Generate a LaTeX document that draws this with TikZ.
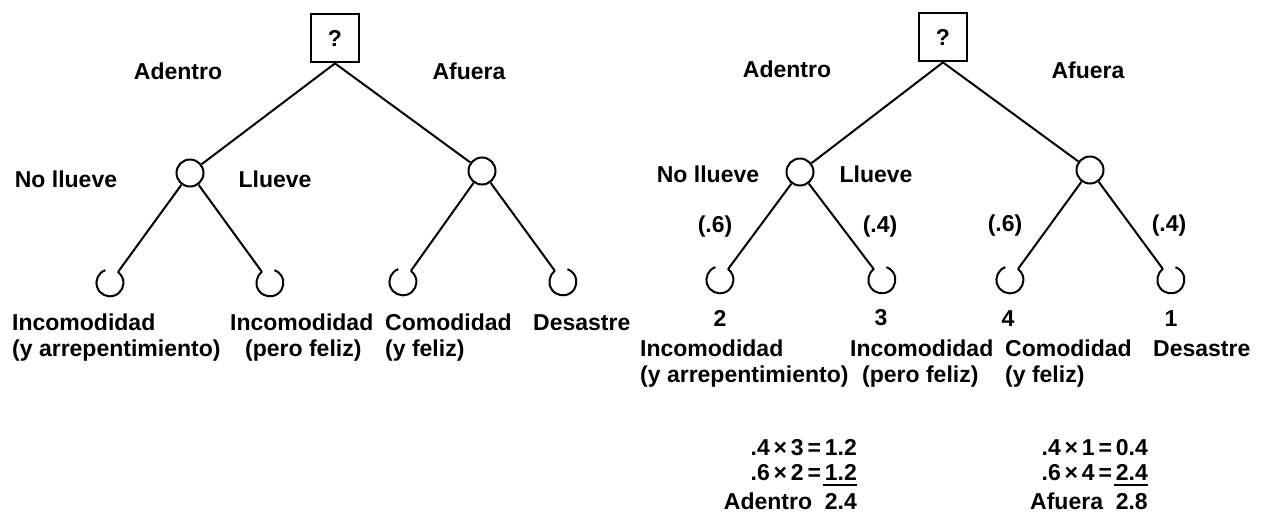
\documentclass[tikz,border=0pt]{standalone}
\usepackage{fontspec}
\setmainfont{Liberation Sans}
\begin{document}
\begin{tikzpicture}[x=1pt,y=1pt,
  txt/.style={font=\fontsize{23}{26}\selectfont\bfseries, inner sep=0pt},
  dec/.style={draw, line width=2.8pt, minimum width=48pt, minimum height=48pt, inner sep=0pt, font=\fontsize{23}{26}\selectfont\bfseries},
  chance/.style={draw, circle, line width=2pt, minimum size=27pt, inner sep=0pt},
  leaf/.style={circle, minimum size=27pt, inner sep=0pt},
  leafline/.style={line width=2pt},
  edge/.style={line width=2pt}]
\useasboundingbox (0,-517) rectangle (1274,0);
\fill[white] (0,-517) rectangle (1274,0);
% ---------------- left tree
\node[dec] (sqA) at (335,-38) {?};
\node[chance] (cA1) at (190,-173) {};
\node[chance] (cA2) at (482,-171) {};
\node[leaf] (lA1) at (110,-283) {};
\node[leaf] (lA2) at (270,-283) {};
\node[leaf] (lA3) at (403,-282) {};
\node[leaf] (lA4) at (563,-282) {};
\draw[edge] (sqA.south) -- (cA1);
\draw[edge] (sqA.south) -- (cA2);
\draw[edge] (cA1) -- (lA1);
\draw[edge] (cA1) -- (lA2);
\draw[edge] (cA2) -- (lA3);
\draw[edge] (cA2) -- (lA4);
\draw[leafline] (lA1.110) arc[start angle=110, end angle=414, radius=13.5pt];
\draw[leafline] (lA2.126) arc[start angle=126, end angle=430, radius=13.5pt];
\draw[leafline] (lA3.110) arc[start angle=110, end angle=414, radius=13.5pt];
\draw[leafline] (lA4.126) arc[start angle=126, end angle=430, radius=13.5pt];
\node[txt] (adA) at (178,-71) {Adentro};
\node[txt] (afA) at (469,-71) {Afuera};
\node[txt] (nlA) at (66,-179) {No llueve};
\node[txt] (llA) at (275,-179) {Llueve};
\node[txt,anchor=base west] (tA1) at (12,-330) {Incomodidad};
\node[txt,anchor=base west] (tA1b) at (12,-356) {(y arrepentimiento)};
\node[txt,anchor=base west] (tA2) at (230,-330) {Incomodidad};
\node[txt,anchor=base west] (tA2b) at (245,-356) {(pero feliz)};
\node[txt,anchor=base west] (tA3) at (385,-330) {Comodidad};
\node[txt,anchor=base west] (tA3b) at (385,-356) {(y feliz)};
\node[txt,anchor=base west] (tA4) at (533,-330) {Desastre};
% ---------------- right tree
\node[dec] (sqB) at (943,-37) {?};
\node[chance] (cB1) at (800,-172) {};
\node[chance] (cB2) at (1090,-170) {};
\node[leaf] (lB1) at (720,-280) {};
\node[leaf] (lB2) at (882,-280) {};
\node[leaf] (lB3) at (1010,-280) {};
\node[leaf] (lB4) at (1171,-280) {};
\draw[edge] (sqB.south) -- (cB1);
\draw[edge] (sqB.south) -- (cB2);
\draw[edge] (cB1) -- (lB1);
\draw[edge] (cB1) -- (lB2);
\draw[edge] (cB2) -- (lB3);
\draw[edge] (cB2) -- (lB4);
\draw[leafline] (lB1.110) arc[start angle=110, end angle=414, radius=13.5pt];
\draw[leafline] (lB2.126) arc[start angle=126, end angle=430, radius=13.5pt];
\draw[leafline] (lB3.110) arc[start angle=110, end angle=414, radius=13.5pt];
\draw[leafline] (lB4.126) arc[start angle=126, end angle=430, radius=13.5pt];
\node[txt] (adB) at (787,-69) {Adentro};
\node[txt] (afB) at (1088,-70) {Afuera};
\node[txt] (nlB) at (708,-174) {No llueve};
\node[txt] (llB) at (876,-174) {Llueve};
\node[txt] (pB1) at (715,-227) {(.6)};
\node[txt] (pB2) at (880,-227) {(.4)};
\node[txt] (pB3) at (1005,-226) {(.6)};
\node[txt] (pB4) at (1169,-226) {(.4)};
\node[txt] (nB1) at (720,-318) {2};
\node[txt] (nB2) at (881,-318) {3};
\node[txt] (nB3) at (1008,-319) {4};
\node[txt] (nB4) at (1171,-319) {1};
\node[txt,anchor=base west] (tB1) at (640,-356) {Incomodidad};
\node[txt,anchor=base west] (tB1b) at (640,-382) {(y arrepentimiento)};
\node[txt,anchor=base west] (tB2) at (850,-356) {Incomodidad};
\node[txt,anchor=base west] (tB2b) at (862,-382) {(pero feliz)};
\node[txt,anchor=base west] (tB3) at (1005,-356) {Comodidad};
\node[txt,anchor=base west] (tB3b) at (1005,-382) {(y feliz)};
\node[txt,anchor=base west] (tB4) at (1153,-356) {Desastre};
% ---------------- calculations
\node[txt,anchor=base east] (cl1) at (857,-455) {.4\,×\,3\,=\,1.2};
\node[txt,anchor=base east] (cl2) at (857,-480) {.6\,×\,2\,=\,1.2};
\node[txt,anchor=base east] (cl3) at (857,-509) {Adentro\ \ 2.4};
\draw[line width=2.2pt] (cl2.base east) ++(0,-5) -- ++(-34,0);
\node[txt,anchor=base east] (cr1) at (1148,-455) {.4\,×\,1\,=\,0.4};
\node[txt,anchor=base east] (cr2) at (1148,-480) {.6\,×\,4\,=\,2.4};
\node[txt,anchor=base east] (cr3) at (1148,-509) {Afuera\ \ 2.8};
\draw[line width=2.2pt] (cr2.base east) ++(0,-5) -- ++(-34,0);
\end{tikzpicture}
\end{document}
